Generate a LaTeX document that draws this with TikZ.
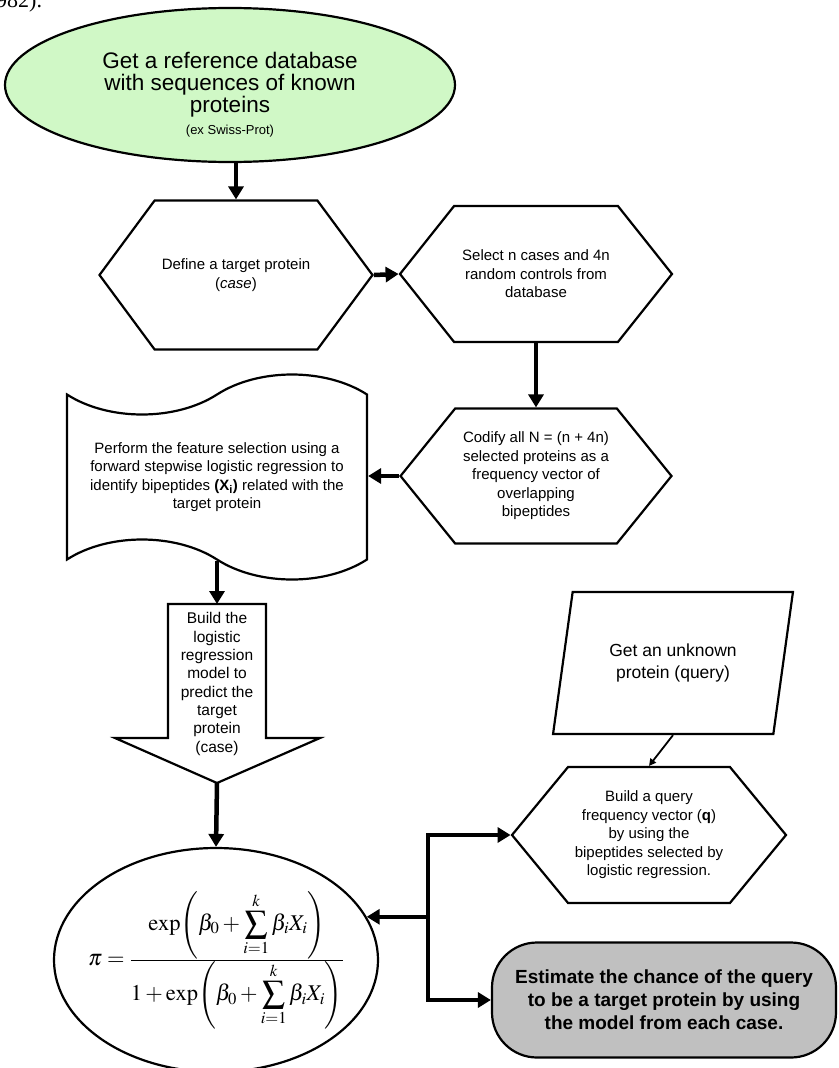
\documentclass[tikz,border=0pt]{standalone}
\usepackage{mathptmx}
\usepackage[no-math]{fontspec}
\setsansfont{Liberation Sans}
\newfontfamily\cutfont{Liberation Serif}
\usetikzlibrary{shapes.geometric,shapes.symbols,arrows.meta}
\definecolor{dbgreen}{RGB}{208,248,198}
\definecolor{estgray}{RGB}{192,192,192}
\tikzset{
  box/.style={draw,line width=2.2pt,align=center,inner sep=0pt,
    font=\sffamily\fontsize{15}{18.5}\selectfont},
  hexa/.style={box,signal,signal to=east and west},
  fat/.style={line width=4.5pt,-{Triangle[length=13pt,width=15pt]}},
  slim/.style={line width=1.8pt,-{Triangle[length=7pt,width=7pt]}}
}
\begin{document}
\begin{tikzpicture}[x=1pt,y=-1pt]
  \useasboundingbox (0,0) rectangle (838,1068);
  \node[anchor=base west,inner sep=0pt,font=\cutfont\fontsize{22}{24}\selectfont] (cut) at (-4,7) {982).};
  \node[box,ellipse,fill=dbgreen,minimum width=450,minimum height=154,
    font=\sffamily\fontsize{22.5}{22}\selectfont] (db) at (230,85)
    {\mbox{}\\[14pt]Get a reference database\\with sequences of known\\proteins\\{\fontsize{13}{16}\selectfont(ex Swiss-Prot)}};
  \node[hexa,minimum width=273,minimum height=149,signal pointer angle=107] (target) at (236,275)
    {Define a target protein\\(\textit{case})};
  \node[hexa,minimum width=272,minimum height=136,signal pointer angle=103] (select) at (536,274)
    {Select n cases and 4n\\random controls from\\database};
  \node[hexa,minimum width=271,minimum height=135,signal pointer angle=102] (codify) at (536,476)
    {Codify all N = (n + 4n)\\selected proteins as a\\frequency vector of\\overlapping\\bipeptides};
  \node[box,tape,tape bend top=in and out,tape bend bottom=out and in,tape bend height=40,
    minimum width=300,minimum height=205] (feature) at (217,477)
    {Perform the feature selection using a\\forward stepwise logistic regression to\\identify bipeptides \textbf{(X\textsubscript{i})} related with the\\target protein};
  \coordinate (buildtop) at (217,604);
  \coordinate (buildtip) at (217,783);
  \draw[line width=2.2pt] (168,604) -- (266,604) -- (266,738) -- (320,738) -- (buildtip)
    -- (115,738) -- (168,738) -- cycle;
  \node[align=center,font=\sffamily\fontsize{15.5}{18.3}\selectfont] (build) at (217,684)
    {Build the\\logistic\\regression\\model to\\predict the\\target\\protein\\(case)};
  \node[box,trapezium,trapezium stretches=true,trapezium left angle=72,trapezium right angle=108,
    minimum width=240,minimum height=142,font=\sffamily\fontsize{17.5}{22}\selectfont] (query) at (673,663)
    {Get an unknown\\protein (query)};
  \node[hexa,minimum width=274,minimum height=136,signal pointer angle=101] (qvec) at (649,835)
    {Build a query\\frequency vector (\textbf{q})\\by using the\\bipeptides selected by\\logistic regression.};
  \node[box,rounded corners=45,fill=estgray,minimum width=344,minimum height=115,
    font=\sffamily\bfseries\fontsize{19}{23}\selectfont] (estimate) at (664,1000)
    {Estimate the chance of the query\\to be a target protein by using\\the model from each case.};
  \node[box,ellipse,inner xsep=-30pt,minimum width=324,minimum height=224,font=\fontsize{22.5}{27}\selectfont] (model) at (216,960)
    {$\pi=\frac{\displaystyle\exp\!\left(\beta_0+\sum_{i=1}^{k}\beta_iX_i\right)}{\displaystyle1+\exp\!\left(\beta_0+\sum_{i=1}^{k}\beta_iX_i\right)}$};
  \coordinate (fork) at (428,0);
  \draw[fat] (target.north |- db.south) -- (target.north);
  \draw[fat] (target.east) -- (select.west);
  \draw[fat] (select.south) -- (codify.north);
  \draw[fat] (codify.west) -- (feature.east |- codify.west);
  \draw[fat] (feature.south) -- (buildtop);
  \draw[fat] (buildtip) -- (model.north);
  \draw[slim] (query.south) -- (qvec.north);
  \draw[line width=4.5pt,line cap=rect] (fork |- qvec.west) -- (fork |- estimate.west);
  \draw[fat] (fork |- qvec.west) -- (qvec.west);
  \draw[fat] (fork |- estimate.west) -- (estimate.west);
  \draw[fat] (model.16 -| fork) -- (model.16);
\end{tikzpicture}
\end{document}
